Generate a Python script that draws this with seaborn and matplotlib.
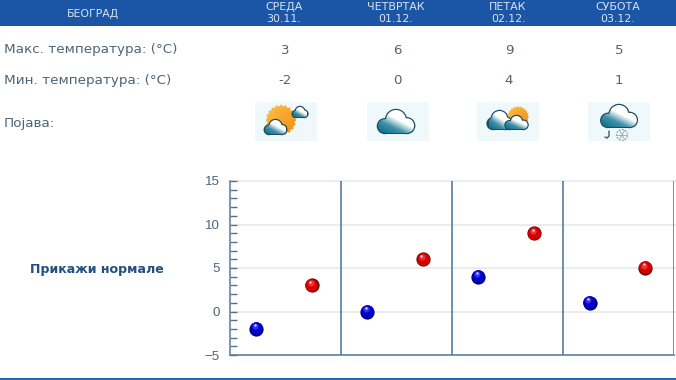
import numpy as np
import pandas as pd
import seaborn as sns
import matplotlib.pyplot as plt
from matplotlib.patches import Circle, Polygon, Rectangle, PathPatch
from matplotlib.path import Path
from matplotlib.colors import LinearSegmentedColormap
from matplotlib.transforms import ScaledTranslation

city = "БЕОГРАД"
days = ["СРЕДА", "ЧЕТВРТАК", "ПЕТАК", "СУБОТА"]
dates = ["30.11.", "01.12.", "02.12.", "03.12."]
t_max = [3, 6, 9, 5]
t_min = [-2, 0, 4, 1]
label_max = "Макс. температура: (°C)"
label_min = "Мин. температура: (°C)"
label_icon = "Појава:"
label_norm = "Прикажи нормале"
y_ticks = [-5, 0, 5, 10, 15]

df = pd.DataFrame({"day": range(len(days)), "t_max": t_max, "t_min": t_min})

W, H = 676, 380
HEAD = "#1b55a5"
TEXT = "#4d6579"
cloud_cmap = LinearSegmentedColormap.from_list("cl", [(0, "#0f6f8c"), (0.3, "#3f92a8"), (0.58, "#ffffff"), (1, "#ffffff")])
sun_cmap = LinearSegmentedColormap.from_list("sn", ["#ffc24a", "#f08a10"])

sns.set_theme(style="white")
plt.rcParams["font.family"] = ["DejaVu Sans"]
fig = plt.figure(figsize=(W / 100, H / 100), dpi=100, facecolor="white")

# page in pixel coordinates
bg = fig.add_axes([0, 0, 1, 1])
bg.set_xlim(0, W)
bg.set_ylim(H, 0)
bg.axis("off")


def cloud(x0, y0, x1, y1, z=3):
    w, h = x1 - x0, y1 - y0
    rs = [(0.50, 0.43, 0.43), (0.19, 0.70, 0.30), (0.80, 0.68, 0.32)]
    verts, codes = [], []
    for cx, cy, r in rs:
        c = Path.unit_circle()
        rr = r * h
        verts.append(c.vertices * rr + [x0 + cx * w, y0 + cy * h])
        codes.append(c.codes)
        bg.add_patch(Circle((x0 + cx * w, y0 + cy * h), rr + 1.2, fc="#1d4a5c", ec="none", zorder=z))
    base = Path.unit_rectangle()
    verts.append(base.vertices * [0.62 * w, 0.4 * h] + [x0 + 0.19 * w, y0 + 0.6 * h])
    codes.append(base.codes)
    bg.add_patch(Rectangle((x0 + 0.19 * w, y0 + 0.6 * h), 0.62 * w, 0.4 * h + 1.2, fc="#1d4a5c", ec="none", zorder=z))
    p = PathPatch(Path(np.vstack(verts), np.concatenate(codes)), fc="none", ec="none", transform=bg.transData)
    bg.add_patch(p)
    gx, gy = np.meshgrid(np.linspace(0, 1, 60), np.linspace(0, 1, 60))
    im = bg.imshow((gx * 0.8 + (1 - gy) * 1.0) / 1.8, extent=(x0, x1, y1, y0), cmap=cloud_cmap,
                   aspect="auto", zorder=z + 0.1, vmin=0.05, vmax=0.95)
    im.set_clip_path(p)


def sun(cx, cy, r, z=2):
    a = np.linspace(0, 2 * np.pi, 40, endpoint=False)
    rad = np.where(np.arange(40) % 2 == 0, r, r * 0.88)
    p = Polygon(np.c_[cx + rad * np.cos(a), cy + rad * np.sin(a)], fc="none", ec="none")
    bg.add_patch(p)
    gx, gy = np.meshgrid(np.linspace(0, 1, 40), np.linspace(0, 1, 40))
    im = bg.imshow(gy * 0.5 + gx * 0.5, extent=(cx - r, cx + r, cy + r, cy - r), cmap=sun_cmap,
                   aspect="auto", zorder=z)
    im.set_clip_path(p)


# header
bg.add_patch(Rectangle((0, 0), W, 25.5, fc=HEAD, ec="none"))
bg.add_patch(Rectangle((0, 378), W, 2, fc="#1c68ad", ec="none"))
bg.text(93, 13.5, city, color="#d9e4f1", fontsize=7.8, ha="center", va="center")
centers = [284, 396, 508, 618]
for cx, d, dt, hi, lo in zip(centers, days, dates, t_max, t_min):
    bg.text(cx, 6.8, d, color="#d9e4f1", fontsize=7.9, ha="center", va="center")
    bg.text(cx, 19.5, dt, color="#d9e4f1", fontsize=7.9, ha="center", va="center")
    bg.text(cx + 1, 50, str(hi), color=TEXT, fontsize=9.6, ha="center", va="center")
    bg.text(cx + 1, 80.5, str(lo), color=TEXT, fontsize=9.6, ha="center", va="center")

bg.text(4, 50, label_max, color=TEXT, fontsize=9.7, ha="left", va="center")
bg.text(4, 80.5, label_min, color=TEXT, fontsize=9.7, ha="left", va="center")
bg.text(4, 123.5, label_icon, color=TEXT, fontsize=9.7, ha="left", va="center")
bg.text(97, 269.5, label_norm, color="#24507f", fontsize=9.1, fontweight="bold", ha="center", va="center")

# icons
for x0 in [255, 367, 477, 588]:
    bg.add_patch(Rectangle((x0, 102), 62, 39, fc="#eff8fb", ec="none", zorder=1))

sun(281, 120, 15.5)
cloud(265, 120, 286, 134, z=4)
cloud(293, 107, 307, 117, z=4)

cloud(378, 110, 414, 133)

sun(518, 117, 11)
cloud(489, 111, 510, 129, z=3)
cloud(505, 116, 528, 129, z=5)

cloud(601, 105, 637, 127)
bg.plot([609, 609, 607, 605], [131, 136, 138, 137], color="#3d5a68", lw=1, zorder=3)
bg.add_patch(Circle((622, 135), 5.5, fc="none", ec="#8fa6b2", lw=0.9, ls=(0, (1.5, 1)), zorder=3))
for ang in [0, 60, 120]:
    dx, dy = 5 * np.cos(np.radians(ang)), 5 * np.sin(np.radians(ang))
    bg.plot([622 - dx, 622 + dx], [135 - dy, 135 + dy], color="#9fb4be", lw=0.7, zorder=3)

# chart
left, right, top, bottom = 229.5, 674, 181, 355
ax = fig.add_axes([left / W, 1 - bottom / H, (right - left) / W, (bottom - top) / H])
ax.patch.set_alpha(0)
ax.set_xlim(0, len(days))
ax.set_ylim(y_ticks[0], y_ticks[-1])
ax.set_xticks(range(1, len(days) + 1))
ax.set_xticklabels([])
ax.set_yticks(y_ticks)
ax.set_yticks(range(y_ticks[0], y_ticks[-1] + 1), minor=True)
ax.tick_params(axis="y", which="both", direction="in", length=5, width=1, color="#5a7088", left=True,
               labelcolor=TEXT, pad=7)
ax.tick_params(axis="x", length=0)
for lab in ax.get_yticklabels():
    lab.set_fontfamily("Liberation Sans")
    lab.set_fontsize(9.6)

for v in y_ticks:
    ax.axhline(v, color="#e5e7ea", lw=1.1, zorder=0, clip_on=False, xmax=1.004)
for x in range(1, len(days) + 1):
    ax.axvline(x, color="#4a7099", lw=1.1, zorder=1)
for s in ["top", "right"]:
    ax.spines[s].set_visible(False)
for s in ["left", "bottom"]:
    ax.spines[s].set_color("#5a7a9a")
    ax.spines[s].set_linewidth(1.1)


def ball(col, off, base, dark, light):
    layers = [(105, dark, 0, 0), (84, base, -0.2, 0.4), (20, light, -0.8, 1.8), (3, "#f0d0d8", -1.0, 2.6)]
    for s, c, dx, dy in layers:
        tr = ax.transData + ScaledTranslation(dx / 72, dy / 72, fig.dpi_scale_trans)
        sns.scatterplot(x=df["day"] + off, y=df[col], s=s, color=c, linewidth=0, ax=ax, legend=False,
                        transform=tr, zorder=4, clip_on=False)


ball("t_min", 0.24, "#0000c8", "#00006e", "#3030f0")
ball("t_max", 0.74, "#d40000", "#6e0000", "#f03030")
ax.set_xlabel("")
ax.set_ylabel("")

fig.savefig("out.png", dpi=100)
